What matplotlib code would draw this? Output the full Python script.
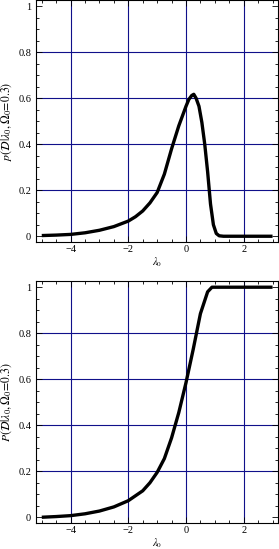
import matplotlib
matplotlib.use("Agg")
import matplotlib.pyplot as plt
from matplotlib.ticker import MultipleLocator

# posterior density p(D|lambda0, Omega0=0.3)
lam_p = [-5, -4.5, -4, -3.5, -3, -2.5, -2, -1.75, -1.5, -1.25, -1, -0.75, -0.5,
         -0.25, 0, 0.1, 0.2, 0.27, 0.35, 0.45, 0.55, 0.65, 0.75, 0.85, 0.95,
         1.05, 1.15, 1.3, 2, 3]
p_vals = [0.003, 0.005, 0.008, 0.015, 0.026, 0.042, 0.066, 0.085, 0.11, 0.145,
          0.19, 0.27, 0.38, 0.48, 0.565, 0.595, 0.612, 0.617, 0.60, 0.565,
          0.495, 0.40, 0.28, 0.14, 0.05, 0.012, 0.002, 0, 0, 0]

# cumulative P(D|lambda0, Omega0=0.3)
lam_c = [-5, -4.5, -4, -3.5, -3, -2.5, -2, -1.5, -1.25, -1, -0.75, -0.5, -0.25,
         0, 0.25, 0.5, 0.75, 0.9, 1.0, 2, 3]
c_vals = [0.0, 0.003, 0.007, 0.015, 0.027, 0.045, 0.072, 0.115, 0.15, 0.195,
          0.255, 0.345, 0.455, 0.585, 0.73, 0.885, 0.98, 1.0, 1.0, 1.0, 1.0]

xticks = [-4, -2, 0, 2]
xtick_labels = ["\u22124", "\u22122", "0", "2"]
yticks = [0, 0.2, 0.4, 0.6, 0.8, 1]
ytick_labels = ["0", "0.2", "0.4", "0.6", "0.8", "1"]
ygrid = [0.2, 0.4, 0.6, 0.8]

ylabels = [r"$p(\mathcal{D}|\lambda_0,\Omega_0\!=\!0.3)$",
           r"$P(\mathcal{D}|\lambda_0,\Omega_0\!=\!0.3)$"]

plt.rcParams["font.family"] = ["Liberation Serif", "DejaVu Serif"]
plt.rcParams["mathtext.fontset"] = "stix"

W, H = 279, 549
fig = plt.figure(figsize=(W / 100, H / 100), dpi=100)

# axes boxes in pixels: left, top, right, bottom
boxes = [(36, 0, 278.3, 242), (36, 281, 278.3, 523)]
series = [(lam_p, p_vals), (lam_c, c_vals)]

for (l, t, r, b), (xs, ys), ylab in zip(boxes, series, ylabels):
    ax = fig.add_axes([l / W, 1 - b / H, (r - l) / W, (b - t) / H])
    for gx in xticks:
        ax.axvline(gx, color="#10108a", lw=0.8, zorder=1)
    for gy in ygrid:
        ax.axhline(gy, color="#10108a", lw=0.8, zorder=1)
    ax.plot(xs, ys, color="black", lw=2.4, solid_capstyle="butt", zorder=3)
    ax.set_xlim(-5.2, 3.2)
    ax.set_ylim(-0.025, 1.027)
    ax.set_xticks(xticks, xtick_labels)
    ax.set_yticks(yticks, ytick_labels)
    ax.xaxis.set_minor_locator(MultipleLocator(0.5))
    ax.yaxis.set_minor_locator(MultipleLocator(0.05))
    ax.tick_params(which="both", direction="in", top=True, right=True,
                   width=0.6, labelsize=7.5)
    ax.tick_params(which="major", length=4)
    ax.tick_params(which="minor", length=2)
    ax.tick_params(axis="x", pad=2)
    ax.tick_params(axis="y", pad=3.5)
    for s in ax.spines.values():
        s.set_linewidth(0.8)
    ax.set_xlabel(r"$\lambda_0$", fontsize=7.5, va="center")
    ax.xaxis.set_label_coords(0.5, -0.082)
    ax.set_ylabel(ylab, fontsize=8.5)
    ax.yaxis.set_label_coords(-0.092, 0.5)

fig.savefig("out.png", dpi=100)
